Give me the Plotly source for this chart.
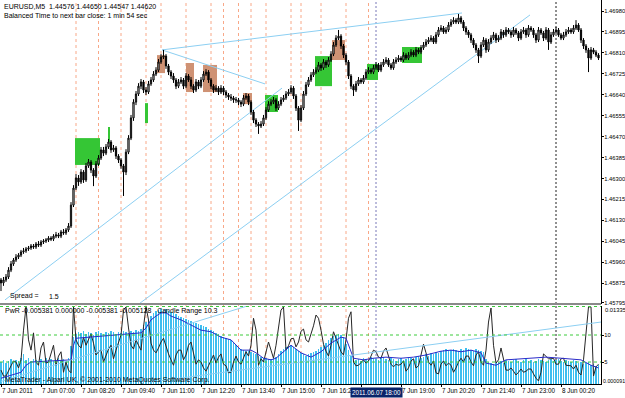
import plotly.graph_objects as go

# ---------------- data ----------------
first_open = 1.45888
closes = [
1.45876,1.45888,1.45900,1.45928,1.45953,1.45969,1.45981,1.45989,1.46002,1.46006,
1.46014,1.46018,1.46026,1.46022,1.46034,1.46030,1.46042,1.46046,1.46050,1.46058,
1.46054,1.46066,1.46071,1.46066,1.46083,1.46079,1.46091,1.46107,1.46192,1.46261,
1.46302,1.46286,1.46326,1.46294,1.46351,1.46367,1.46334,1.46310,1.46359,1.46383,
1.46416,1.46403,1.46428,1.46448,1.46416,1.46424,1.46391,1.46375,1.46351,1.46326,
1.46407,1.46464,1.46546,1.46610,1.46643,1.46675,1.46692,1.46659,1.46651,1.46684,
1.46700,1.46724,1.46740,1.46773,1.46793,1.46797,1.46757,1.46732,1.46716,1.46700,
1.46675,1.46692,1.46700,1.46675,1.46716,1.46700,1.46675,1.46659,1.46692,1.46675,
1.46700,1.46724,1.46732,1.46700,1.46675,1.46659,1.46667,1.46651,1.46667,1.46651,
1.46639,1.46631,1.46627,1.46619,1.46619,1.46610,1.46602,1.46627,1.46635,1.46610,
1.46570,1.46537,1.46521,1.46513,1.46521,1.46546,1.46578,1.46602,1.46610,1.46619,
1.46586,1.46602,1.46619,1.46627,1.46643,1.46651,1.46667,1.46635,1.46586,1.46537,
1.46586,1.46643,1.46680,1.46700,1.46720,1.46732,1.46740,1.46761,1.46749,1.46773,
1.46761,1.46781,1.46805,1.46842,1.46870,1.46878,1.46838,1.46801,1.46773,1.46716,
1.46675,1.46659,1.46684,1.46700,1.46692,1.46708,1.46732,1.46740,1.46732,1.46749,
1.46761,1.46740,1.46761,1.46773,1.46781,1.46761,1.46749,1.46773,1.46781,1.46789,
1.46781,1.46801,1.46789,1.46801,1.46813,1.46801,1.46822,1.46813,1.46830,1.46842,
1.46854,1.46862,1.46870,1.46854,1.46883,1.46903,1.46911,1.46895,1.46903,1.46923,
1.46935,1.46943,1.46935,1.46952,1.46935,1.46911,1.46895,1.46883,1.46862,1.46842,
1.46822,1.46797,1.46842,1.46862,1.46822,1.46854,1.46870,1.46883,1.46862,1.46870,
1.46895,1.46883,1.46903,1.46895,1.46883,1.46903,1.46891,1.46870,1.46895,1.46903,
1.46883,1.46911,1.46903,1.46883,1.46862,1.46903,1.46891,1.46870,1.46903,1.46854,
1.46883,1.46895,1.46903,1.46883,1.46870,1.46883,1.46895,1.46903,1.46895,1.46911,
1.46923,1.46903,1.46862,1.46838,1.46822,1.46789,1.46822,1.46813,1.46801,1.46789]
highs = [
1.45896,1.45900,1.45912,1.45940,1.45965,1.45977,1.45993,1.45997,1.46010,1.46018,
1.46022,1.46026,1.46034,1.46034,1.46042,1.46046,1.46050,1.46054,1.46058,1.46066,
1.46066,1.46074,1.46083,1.46079,1.46091,1.46095,1.46099,1.46119,1.46204,1.46273,
1.46318,1.46314,1.46338,1.46334,1.46363,1.46379,1.46375,1.46342,1.46371,1.46395,
1.46428,1.46428,1.46440,1.46460,1.46456,1.46436,1.46432,1.46399,1.46383,1.46359,
1.46419,1.46476,1.46558,1.46622,1.46655,1.46687,1.46704,1.46700,1.46671,1.46696,
1.46712,1.46736,1.46752,1.46785,1.46805,1.46822,1.46805,1.46765,1.46740,1.46728,
1.46708,1.46704,1.46712,1.46708,1.46728,1.46724,1.46712,1.46683,1.46704,1.46700,
1.46712,1.46736,1.46744,1.46740,1.46708,1.46683,1.46679,1.46675,1.46679,1.46675,
1.46659,1.46647,1.46643,1.46635,1.46631,1.46627,1.46618,1.46639,1.46647,1.46643,
1.46618,1.46578,1.46545,1.46529,1.46533,1.46558,1.46590,1.46614,1.46622,1.46631,
1.46627,1.46614,1.46631,1.46639,1.46655,1.46663,1.46679,1.46675,1.46643,1.46594,
1.46598,1.46655,1.46692,1.46712,1.46732,1.46744,1.46752,1.46773,1.46769,1.46785,
1.46781,1.46793,1.46817,1.46854,1.46882,1.46903,1.46886,1.46846,1.46809,1.46781,
1.46724,1.46683,1.46696,1.46712,1.46708,1.46720,1.46744,1.46752,1.46748,1.46761,
1.46773,1.46769,1.46773,1.46785,1.46793,1.46789,1.46769,1.46785,1.46793,1.46801,
1.46797,1.46813,1.46809,1.46813,1.46825,1.46821,1.46834,1.46830,1.46842,1.46854,
1.46866,1.46874,1.46882,1.46878,1.46895,1.46915,1.46923,1.46919,1.46915,1.46935,
1.46947,1.46955,1.46951,1.46968,1.46960,1.46943,1.46919,1.46903,1.46891,1.46870,
1.46850,1.46830,1.46854,1.46874,1.46870,1.46866,1.46882,1.46895,1.46891,1.46882,
1.46907,1.46903,1.46915,1.46911,1.46903,1.46915,1.46911,1.46899,1.46907,1.46915,
1.46911,1.46923,1.46919,1.46911,1.46891,1.46915,1.46911,1.46899,1.46915,1.46911,
1.46895,1.46907,1.46915,1.46911,1.46891,1.46895,1.46907,1.46915,1.46911,1.46923,
1.46943,1.46931,1.46911,1.46870,1.46846,1.46830,1.46834,1.46830,1.46821,1.46809]
lows = [
1.45843,1.45864,1.45880,1.45892,1.45920,1.45945,1.45961,1.45973,1.45981,1.45994,
1.45998,1.46006,1.46010,1.46014,1.46014,1.46022,1.46022,1.46034,1.46038,1.46042,
1.46046,1.46046,1.46058,1.46058,1.46058,1.46071,1.46071,1.46083,1.46099,1.46184,
1.46253,1.46270,1.46278,1.46282,1.46286,1.46343,1.46322,1.46269,1.46302,1.46351,
1.46375,1.46391,1.46395,1.46420,1.46404,1.46408,1.46379,1.46363,1.46339,1.46229,
1.46314,1.46399,1.46456,1.46534,1.46598,1.46635,1.46663,1.46647,1.46639,1.46643,
1.46676,1.46692,1.46716,1.46732,1.46765,1.46785,1.46745,1.46720,1.46704,1.46688,
1.46663,1.46667,1.46684,1.46663,1.46667,1.46692,1.46663,1.46647,1.46651,1.46663,
1.46667,1.46692,1.46716,1.46688,1.46663,1.46647,1.46651,1.46639,1.46643,1.46639,
1.46627,1.46619,1.46615,1.46607,1.46607,1.46598,1.46590,1.46594,1.46619,1.46598,
1.46558,1.46525,1.46509,1.46481,1.46505,1.46513,1.46538,1.46570,1.46594,1.46602,
1.46574,1.46578,1.46594,1.46611,1.46619,1.46635,1.46643,1.46623,1.46574,1.46493,
1.46529,1.46578,1.46635,1.46672,1.46692,1.46712,1.46724,1.46732,1.46737,1.46741,
1.46749,1.46753,1.46773,1.46797,1.46834,1.46862,1.46826,1.46789,1.46761,1.46704,
1.46663,1.46635,1.46651,1.46676,1.46684,1.46684,1.46700,1.46724,1.46724,1.46724,
1.46741,1.46732,1.46732,1.46753,1.46765,1.46753,1.46741,1.46741,1.46765,1.46773,
1.46773,1.46773,1.46781,1.46781,1.46793,1.46793,1.46793,1.46805,1.46805,1.46822,
1.46834,1.46846,1.46854,1.46846,1.46846,1.46875,1.46895,1.46887,1.46887,1.46895,
1.46915,1.46927,1.46927,1.46927,1.46927,1.46899,1.46883,1.46871,1.46850,1.46830,
1.46810,1.46769,1.46789,1.46834,1.46810,1.46814,1.46846,1.46862,1.46850,1.46854,
1.46862,1.46871,1.46875,1.46887,1.46871,1.46875,1.46883,1.46858,1.46862,1.46887,
1.46871,1.46875,1.46895,1.46871,1.46850,1.46854,1.46883,1.46858,1.46862,1.46822,
1.46846,1.46875,1.46887,1.46875,1.46862,1.46862,1.46875,1.46887,1.46887,1.46887,
1.46903,1.46895,1.46850,1.46826,1.46810,1.46732,1.46781,1.46805,1.46793,1.46781]

# candle range histogram (lower panel)
candle_range = [
5.0,5.4,4.8,5.2,5.6,5.0,5.4,5.2,5.8,6.4,
5.4,5.8,5.2,5.6,5.4,5.0,5.6,5.2,5.8,5.4,5.6,5.2,5.4,5.8,5.4,5.6,5.2,5.8,
8.0,9.6,
10.2,10.6,10.4,10.8,10.2,10.6,10.4,10.0,10.6,10.8,10.4,10.2,10.6,10.4,10.8,10.6,10.2,10.6,10.4,10.8,10.6,10.4,10.8,10.6,11.0,10.8,11.2,
11.8,12.4,13.0,13.6,14.0,14.4,14.6,
14.8,14.6,14.8,14.4,14.2,
14.0,13.8,13.6,13.4,13.2,13.0,12.8,12.6,12.4,12.2,12.0,11.8,11.6,11.4,11.2,
11.0,10.8,10.4,10.2,9.8,9.6,9.4,9.2,9.0,8.6,8.2,7.8,
7.4,7.2,7.0,7.0,6.8,6.6,6.4,6.2,6.0,5.8,5.8,5.6,5.6,5.8,6.0,6.4,
7.0,7.4,7.8,8.0,8.2,7.8,7.4,7.0,
6.6,6.4,6.2,6.4,6.6,6.8,7.0,7.4,
7.8,8.2,8.6,9.0,9.4,9.8,10.0,10.2,10.0,9.6,
8.4,7.2,6.2,5.6,
5.4,5.6,5.2,5.8,5.6,5.4,6.0,5.8,5.6,5.4,5.8,6.0,5.6,5.4,5.8,5.6,5.2,5.6,5.8,5.4,
5.6,6.0,5.8,5.6,6.0,6.2,5.8,6.0,6.4,6.2,6.6,6.4,6.8,6.6,
7.0,7.2,7.4,7.0,7.2,7.4,7.2,7.0,7.4,7.2,7.6,7.4,7.2,7.0,7.4,7.2,7.0,6.8,
5.6,5.0,4.8,4.6,
4.8,5.0,5.2,4.8,5.4,5.2,5.0,5.4,5.6,5.2,5.0,5.4,5.6,5.2,5.4,5.0,5.2,5.6,5.4,5.2,
5.0,5.4,5.6,5.2,5.4,5.6,5.2,5.0,5.4,5.2,5.0,5.4,5.2,4.8,5.0,4.6,4.8,5.0,4.4,4.6,4.2,4.4]

pwr_line = [
3.5,2.4,2.4,3.5,4.3,5.2,5.0,3.9,5.4,10.9,
15.2,9.1,7.2,10.4,5.0,4.4,7.6,8.7,4.8,5.0,
6.5,8.1,4.4,6.1,6.9,3.1,5.0,3.5,3.0,15.2,
9.1,8.1,7.6,9.6,8.1,9.1,10.2,8.5,6.3,6.9,
7.2,5.0,6.3,7.4,8.1,5.6,7.2,8.5,10.0,14.6,
15.2,11.3,8.1,7.4,9.1,8.1,7.2,11.5,15.2,12.8,
8.5,7.2,6.7,7.6,8.7,9.4,7.8,6.5,5.4,4.4,
6.3,7.2,7.2,5.4,6.3,8.1,8.7,6.9,4.6,5.4,
5.0,3.9,3.3,4.3,5.4,6.3,4.8,5.9,6.5,4.6,
4.3,3.0,3.1,5.0,6.1,5.0,4.6,5.7,6.9,6.1,
8.1,13.1,10.9,4.4,5.6,5.0,6.9,8.7,7.2,5.7,
8.1,11.3,14.6,15.2,7.2,8.0,9.3,9.4,7.8,8.7,
10.7,11.1,9.1,8.7,10.0,11.7,13.7,13.1,10.9,8.3,
7.0,6.1,8.1,10.6,9.4,8.1,6.9,6.3,9.1,13.1,
14.3,5.0,4.3,4.4,5.0,5.4,4.8,5.2,6.1,7.2,
6.9,5.9,5.7,7.0,7.6,6.3,4.6,4.1,4.6,4.4,
4.6,5.2,3.3,3.9,5.2,5.6,3.9,4.3,6.3,8.3,
6.7,5.0,4.4,5.2,3.0,2.8,4.6,5.2,4.3,4.8,
4.4,3.1,3.9,5.0,5.7,5.0,6.1,6.1,5.0,4.3,
6.3,6.9,5.0,4.4,7.2,12.4,15.0,8.1,4.8,5.4,
7.6,5.7,3.5,3.5,3.9,3.3,2.6,3.1,3.7,3.1,
3.3,3.7,3.7,2.8,2.0,1.5,3.1,6.5,6.1,5.6,
5.6,5.7,4.6,4.6,5.6,5.7,4.4,4.4,4.3,3.7,
4.4,3.1,2.6,5.4,10.9,15.2,15.2,2.4,4.1,4.6]

avg_bars = [0,4,8,10,12,28,29,30,40,56,58,60,62,64,66,68,72,76,80,84,
            88,92,96,100,102,105,108,110,113,116,120,124,128,132,136,138,141,145,149,154,
            160,165,170,176,180,184,188,192,194,198,202,208,213,218,224,228,232,236,239]
avg_vals = [2.0,2.6,3.1,4.4,5.0,5.4,8.1,9.4,9.8,10.4,11.3,12.8,13.5,14.1,14.1,13.5,12.8,11.9,10.9,10.6,
            9.6,9.1,7.2,7.2,6.7,5.7,5.4,5.7,6.9,8.1,6.7,5.9,6.9,8.5,9.6,9.4,5.7,5.4,5.7,5.9,
            5.7,5.9,6.3,7.0,7.2,6.9,7.2,6.7,4.8,4.4,5.4,5.6,5.7,5.9,5.7,5.6,5.4,4.4,3.9]

# signal boxes: start bar, end bar, low price, high price
green_x0 = [29.6, 105.6, 125.6, 146.4, 160.4, 42.8, 57.6]
green_x1 = [39.6, 110.8, 132.4, 150.8, 168.4, 43.6, 58.8]
green_lo = [1.46355, 1.46570, 1.46675, 1.46700, 1.46769, 1.46448, 1.46525]
green_hi = [1.46464, 1.46639, 1.46797, 1.46765, 1.46834, 1.46509, 1.46606]
brown_x0 = [62.4, 74.0, 80.8, 96.8, 132.4]
brown_x1 = [65.6, 77.2, 86.4, 100.4, 137.6]
brown_lo = [1.46728, 1.46651, 1.46651, 1.46602, 1.46781]
brown_hi = [1.46801, 1.46769, 1.46761, 1.46647, 1.46862]

signal_bars = [30, 39, 48, 58, 64, 74, 84, 89, 95, 100, 106, 116, 120, 128, 138, 147]
cursor_bar = 150
period_sep_bar = 222

# trend lines (main panel): bar0, price0, bar1, price1
tl_b0 = [1.6, 64.4, 64.4, 55.6]
tl_p0 = [1.45807, 1.46822, 1.46822, 1.45794]
tl_b1 = [112.4, 184.4, 105.6, 211.6]
tl_p1 = [1.46667, 1.46972, 1.46684, 1.46964]
# trend lines (indicator panel)
itl_b0 = [0, 60]
itl_v0 = [1.4, 1.3]
itl_b1 = [98, 240]
itl_v1 = [15.3, 12.4]

price_ticks = [1.46980, 1.46895, 1.46810, 1.46725, 1.46640, 1.46555, 1.46470,
               1.46385, 1.46300, 1.46215, 1.46130, 1.46045, 1.45960, 1.45875, 1.45795]
time_tick_bars = [0, 16, 32, 48, 64, 80, 96, 112, 128, 144, 160, 176, 192, 208, 224]
# the 17:40 label sits under the cursor time box in the reference, so it is left blank
time_tick_text = ["7 Jun 2011", "7 Jun 07:00", "7 Jun 08:20", "7 Jun 09:40", "7 Jun 11:00",
                  "7 Jun 12:20", "7 Jun 13:40", "7 Jun 15:00", "7 Jun 16:20", "",
                  "7 Jun 19:00", "7 Jun 20:20", "7 Jun 21:40", "7 Jun 23:00", "8 Jun 00:20"]

# ---------------- figure ----------------
W, H = 625, 398
ML, MR, MT, MB = 0, 24, 0, 14
PW, PH = W - ML - MR, H - MT - MB
FONT = "Liberation Sans, Arial, sans-serif"
FS = 7
FX = 6.3
FY = 5.8

def py(ypix):  # pixel (from top) -> paper y
    return (PH - (ypix - MT)) / PH

def px(xpix):
    return (xpix - ML) / PW

main_dom = [py(304), 1.0]
ind_dom = [0.0, py(306)]

bars = list(range(len(closes)))
opens = [first_open] + closes[:-1]

fig = go.Figure()
fig.add_trace(go.Bar(x=bars, y=candle_range, width=0.42, marker=dict(color="#3DBEEF", line=dict(width=0)),
                     xaxis="x", yaxis="y2", hoverinfo="skip", showlegend=False))
fig.add_trace(go.Scatter(x=bars, y=pwr_line, mode="lines", line=dict(color="#262626", width=1),
                         xaxis="x", yaxis="y2", hoverinfo="skip", showlegend=False))
fig.add_trace(go.Scatter(x=avg_bars, y=avg_vals, mode="lines", line=dict(color="#2B2BC8", width=1),
                         xaxis="x", yaxis="y2", hoverinfo="skip", showlegend=False))
fig.add_trace(go.Candlestick(x=bars, open=opens, high=highs, low=lows, close=closes,
                             increasing=dict(line=dict(color="black", width=1), fillcolor="white"),
                             decreasing=dict(line=dict(color="black", width=1), fillcolor="black"),
                             whiskerwidth=0, xaxis="x", yaxis="y", hoverinfo="skip", showlegend=False))

shapes = []
for x0, x1, lo, hi in zip(green_x0, green_x1, green_lo, green_hi):
    shapes.append(dict(type="rect", xref="x", yref="y", x0=x0, x1=x1, y0=lo, y1=hi,
                       fillcolor="#35C635", line=dict(width=0), layer="below"))
for x0, x1, lo, hi in zip(brown_x0, brown_x1, brown_lo, brown_hi):
    shapes.append(dict(type="rect", xref="x", yref="y", x0=x0, x1=x1, y0=lo, y1=hi,
                       fillcolor="#CF9274", line=dict(width=0), layer="below"))
for b in signal_bars:
    shapes.append(dict(type="line", xref="x", yref="paper", x0=b, x1=b, y0=0, y1=1,
                       line=dict(color="#F8A888", width=1, dash="3px,3px"), layer="below"))
shapes.append(dict(type="line", xref="x", yref="paper", x0=cursor_bar, x1=cursor_bar, y0=0, y1=1,
                   line=dict(color="#7878B8", width=1, dash="2px,2px"), layer="below"))
shapes.append(dict(type="line", xref="x", yref="paper", x0=period_sep_bar, x1=period_sep_bar, y0=0, y1=1,
                   line=dict(color="#202020", width=1, dash="2px,2px"), layer="below"))
for b0, p0, b1, p1 in zip(tl_b0, tl_p0, tl_b1, tl_p1):
    shapes.append(dict(type="line", xref="x", yref="y", x0=b0, x1=b1, y0=p0, y1=p1,
                       line=dict(color="#8CCFF2", width=1), layer="below"))
for b0, v0, b1, v1 in zip(itl_b0, itl_v0, itl_b1, itl_v1):
    shapes.append(dict(type="line", xref="x", yref="y2", x0=b0, x1=b1, y0=v0, y1=v1,
                       line=dict(color="#8CCFF2", width=1), layer="above"))
for lvl in [10, 5]:
    shapes.append(dict(type="line", xref="paper", yref="y2", x0=0, x1=1, y0=lvl, y1=lvl,
                       line=dict(color="#3CCB3C", width=1, dash="3px,3px"), layer="above"))
# panel separator
shapes.append(dict(type="line", xref="paper", yref="paper", x0=0, x1=1, y0=main_dom[0], y1=main_dom[0],
                   line=dict(color="#8A8A8A", width=2)))
shapes.append(dict(type="line", xref="paper", yref="paper", x0=0, x1=1, y0=py(306.5), y1=py(306.5),
                   line=dict(color="#3CCB3C", width=1, dash="3px,3px")))

def note(text, xpix, ypix, size=FS, **kw):
    d = dict(text=text, xref="paper", yref="paper", x=px(xpix), y=py(ypix), xanchor="left",
             yanchor="middle", showarrow=False, font=dict(family=FONT, size=size, color="black"))
    d.update(kw)
    return d

annotations = [
    note("EURUSD,M5  1.44576 1.44650 1.44547 1.44620", 2, 6),
    note("Balanced Time to next bar close: 1 min 54 sec", 2, 15),
    note("Spread =", 8, 296),
    note("1.5", 47, 296),
    note("PwR -0.005381 0.000000 -0.005381 -0.005128   Candle Range 10.3", 3, 311),
    note("MetaTrader - Alpari UK, © 2001-2010 MetaQuotes Software Corp.", 3, 380),
    note("0.01335", 603, 310, size=FY),
    note("0.000091", 601, 381, size=5.3),
    dict(text="2011.06.07 18:00", xref="x", yref="paper", x=cursor_bar, y=py(392), xanchor="center",
         yanchor="middle", showarrow=False, bgcolor="#0A246A", borderpad=1,
         font=dict(family=FONT, size=FX, color="white")),
]

fig.update_layout(
    width=W, height=H, margin=dict(l=ML, r=MR, t=MT, b=MB, pad=0, autoexpand=False),
    paper_bgcolor="white", plot_bgcolor="white", showlegend=False, bargap=0,
    font=dict(family=FONT, size=FS, color="black"),
    xaxis=dict(domain=[0, 1], range=[-0.4, 240], anchor="y2", showgrid=False, zeroline=False,
               showline=True, linecolor="black", linewidth=1, ticks="outside", ticklen=2,
               tickcolor="black", tickvals=time_tick_bars, ticktext=time_tick_text, tickangle=0,
               ticklabelposition="outside right", tickfont=dict(family=FONT, size=FX),
               rangeslider=dict(visible=False), fixedrange=True, automargin=False),
    yaxis=dict(domain=main_dom, range=[1.457904, 1.470247], side="right", anchor="x",
               showgrid=False, zeroline=False, showline=True, linecolor="black", linewidth=1,
               ticks="outside", ticklen=2, tickcolor="black", tickvals=price_ticks,
               ticktext=["%.5f" % v for v in price_ticks], tickfont=dict(family=FONT, size=FY),
               ticklabelstandoff=-1, fixedrange=True, automargin=False),
    yaxis2=dict(domain=ind_dom, range=[0.93, 15.37], side="right", anchor="x",
                showgrid=False, zeroline=False, showline=True, linecolor="black", linewidth=1,
                ticks="outside", ticklen=2, tickcolor="black", tickvals=[10, 5], ticktext=["10", "5"],
                tickfont=dict(family=FONT, size=FY), ticklabelstandoff=-1, fixedrange=True,
                automargin=False),
    shapes=shapes, annotations=annotations,
)

fig.write_html("out.html", include_plotlyjs=True, config={"displayModeBar": False, "staticPlot": True})
